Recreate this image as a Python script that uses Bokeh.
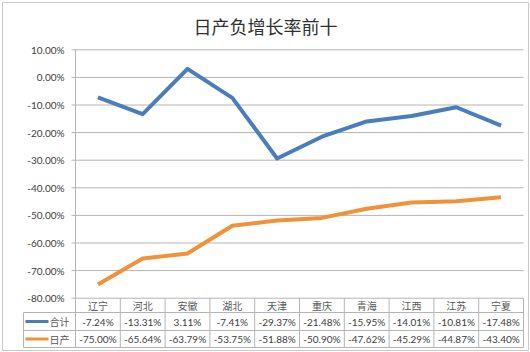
from bokeh.plotting import figure
from bokeh.models import Range1d, ColumnDataSource
from bokeh.core.properties import value
from bokeh.embed import file_html
from bokeh.resources import INLINE

# ---- data ----
title = "日产负增长率前十"
provinces = ["辽宁", "河北", "安徽", "湖北", "天津", "重庆", "青海", "江西", "江苏", "宁夏"]
total_growth = [-7.24, -13.31, 3.11, -7.41, -29.37, -21.48, -15.95, -14.01, -10.81, -17.48]
daily_growth = [-75.00, -65.64, -63.79, -53.75, -51.88, -50.90, -47.62, -45.29, -44.87, -43.40]
series_names = ["合计", "日产"]
y_ticks = [10, 0, -10, -20, -30, -40, -50, -60, -70, -80]
y_tick_labels = ["10.00%", "0.00%", "-10.00%", "-20.00%", "-30.00%", "-40.00%",
                 "-50.00%", "-60.00%", "-70.00%", "-80.00%"]

# ---- layout helpers (pixel -> data) ----
W, H = 530, 352
CW = 44.8          # column width in px
X0 = 75            # plot-area left px
PXU = 2.76         # px per 1 %
Y10 = 49.3         # px of the 10% line


def dx(px):
    return (px - X0) / CW


def dy(px):
    return 10 - (px - Y10) / PXU


BLUE = "#4A7EBB"
ORANGE = "#F0923A"
GRID = "#B4B4B4"
TXT = "#404040"
FONT = value("Lato")
CJK = value("Noto Sans CJK SC")

p = figure(width=W, height=H, output_backend="svg", toolbar_location=None,
           x_range=Range1d(dx(0), dx(W)), y_range=Range1d(dy(H), dy(0)),
           min_border=0, outline_line_color=None, background_fill_color="white",
           border_fill_color="white")
p.axis.visible = False
p.grid.visible = False

n = len(provinces)
xc = [i + 0.5 for i in range(n)]

# outer chart border
p.quad(left=[dx(2)], right=[dx(528)], top=[dy(2)], bottom=[dy(350)],
       fill_color=None, line_color="#C8C8C8", line_width=1)

# title
p.text(x=[dx(265)], y=[dy(25)], text=[title], text_font=CJK, text_font_size="18px",
       text_align="center", text_baseline="middle", text_color="#303030")

# gridlines + y tick labels + ticks
p.segment(x0=[0] * len(y_ticks), x1=[n] * len(y_ticks), y0=y_ticks, y1=y_ticks,
          line_color=GRID, line_width=1)
p.segment(x0=[dx(71)] * len(y_ticks), x1=[0] * len(y_ticks), y0=y_ticks, y1=y_ticks,
          line_color=GRID, line_width=1)
p.segment(x0=[0], x1=[0], y0=[max(y_ticks)], y1=[min(y_ticks)], line_color=GRID, line_width=1)
p.text(x=[dx(64)] * len(y_ticks), y=y_ticks, text=y_tick_labels, text_font=FONT,
       text_font_size="10px", text_align="right", text_baseline="middle", text_color=TXT)

# lines
p.line(xc, total_growth, line_color=BLUE, line_width=4, line_join="round")
p.line(xc, daily_growth, line_color=ORANGE, line_width=4, line_join="round")

# data table
r1, r2, r3 = dy(312), dy(330), dy(347)
top = min(y_ticks)
p.segment(x0=[dx(23)] * 3, x1=[n] * 3, y0=[r1, r2, r3], y1=[r1, r2, r3],
          line_color=GRID, line_width=1)
p.segment(x0=list(range(n + 1)), x1=list(range(n + 1)), y0=[top] * (n + 1), y1=[r3] * (n + 1),
          line_color=GRID, line_width=1)
p.segment(x0=[dx(23)], x1=[dx(23)], y0=[r1], y1=[r3], line_color=GRID, line_width=1)

c_cat = (top + r1) / 2
c_t = (r1 + r2) / 2
c_d = (r2 + r3) / 2
p.text(x=xc, y=[c_cat] * n, text=provinces, text_font=CJK, text_font_size="10px",
       text_align="center", text_baseline="middle", text_color="#595959")
p.text(x=xc, y=[c_t] * n, text=[f"{v:.2f}%" for v in total_growth], text_font=FONT,
       text_font_size="10px", text_align="center", text_baseline="middle", text_color=TXT)
p.text(x=xc, y=[c_d] * n, text=[f"{v:.2f}%" for v in daily_growth], text_font=FONT,
       text_font_size="10px", text_align="center", text_baseline="middle", text_color=TXT)

# legend keys in table
p.segment(x0=[dx(25), dx(25)], x1=[dx(48), dx(48)], y0=[c_t, c_d], y1=[c_t, c_d],
          line_color=[BLUE, ORANGE], line_width=3)
p.text(x=[dx(49), dx(49)], y=[c_t, c_d], text=series_names, text_font=CJK,
       text_font_size="10px", text_align="left", text_baseline="middle", text_color="#595959")

open("out.html", "w").write(file_html(p, INLINE))
